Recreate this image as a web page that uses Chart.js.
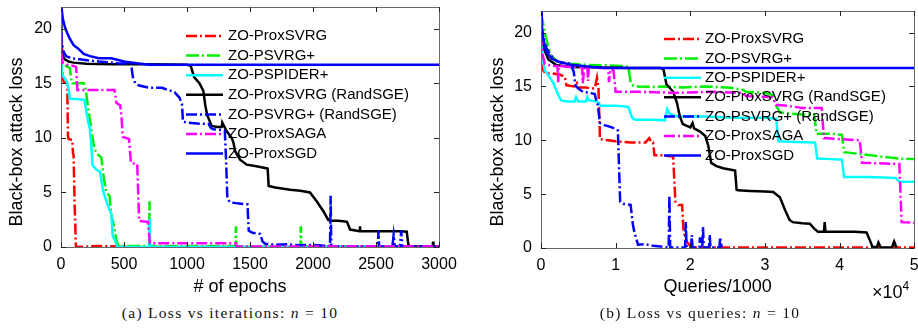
<!DOCTYPE html>
<html>
<head>
<meta charset="utf-8">
<script src="https://cdn.jsdelivr.net/npm/chart.js@4.4.1/dist/chart.umd.min.js"></script>
<style>
  html, body { margin: 0; padding: 0; background: #fff; }
  #page { position: relative; width: 918px; height: 329px; overflow: hidden; font-family: "Liberation Sans", Arial, sans-serif; }
  #page canvas { position: absolute; top: 0; }
  #lossEpochs { left: 0; }
  #lossQueries { left: 459px; }
  .caption { position: absolute; top: 304px; font-family: "Liberation Serif", "Times New Roman", serif; font-size: 15.5px; line-height: 17px; letter-spacing: 1.3px; white-space: nowrap; transform: translateX(-50%); color: #111; }
  #exponent { position: absolute; left: 872px; top: 283px; font-size: 18px; line-height: 18px; color: #000; }
  #exponent span { font-size: 12px; position: relative; top: -8px; }
</style>
</head>
<body>
<div id="page">
  <canvas id="lossEpochs" width="459" height="300"></canvas>
  <canvas id="lossQueries" width="459" height="300"></canvas>
  <div id="exponent">×10<span>4</span></div>
  <div class="caption" style="left:230px">(a) Loss vs iterations: <i>n</i> = 10</div>
  <div class="caption" style="left:700px">(b) Loss vs queries: <i>n</i> = 10</div>
</div>
<script>
// tick labels
var epochTicks = [0, 500, 1000, 1500, 2000, 2500, 3000];
var queryTicks = [0, 1, 2, 3, 4, 5];
var lossTicks = [0, 5, 10, 15, 20];

var seriesNames = ['ZO-ProxSVRG', 'ZO-PSVRG+', 'ZO-PSPIDER+', 'ZO-ProxSVRG (RandSGE)',
                   'ZO-PSVRG+ (RandSGE)', 'ZO-ProxSAGA', 'ZO-ProxSGD'];

// ---- (a) loss vs # of epochs ----
var epSvrgX = [0, 8, 15, 25, 50, 55, 60, 90, 95, 100, 108, 118, 130, 300, 600, 3000];
var epSvrgY = [17.3, 16.2, 15.3, 15.1, 15.0, 10.2, 9.9, 9.8, 8.6, 8.4, 4.0, 0.1, 0.0, 0.1, 0.0, 0.0];

var epPsvrgX = [0, 5, 15, 40, 70, 80, 90, 180, 195, 215, 240, 265, 290, 320, 340, 360, 385, 400, 420, 440, 455,
                700, 702, 705, 1385, 1388, 1392, 1900, 1903, 1907, 3000];
var epPsvrgY = [18.5, 17.3, 16.9, 16.6, 16.4, 15.5, 15.0, 15.0, 14.5, 12.8, 10.8, 9.0, 8.5, 8.2, 6.3, 5.0, 4.7, 2.8, 2.0, 0.6, 0.1,
                0.1, 4.2, 0.1, 0.1, 1.9, 0.05, 0.05, 1.9, 0.05, 0.05];

var epSpiderX = [0, 5, 20, 45, 60, 70, 185, 200, 215, 228, 240, 250, 280, 310, 322, 335, 357, 385, 400, 410, 430, 445,
                 700, 703, 708, 3000];
var epSpiderY = [17.6, 16.0, 15.6, 15.2, 14.5, 13.6, 13.5, 12.5, 11.5, 10.9, 9.4, 7.5, 7.1, 6.9, 6.0, 5.1, 4.3, 3.4, 3.0, 1.0, 0.6, 0.0,
                 0.0, 2.6, 0.0, 0.0];

var epRandSvrgX = [0, 3, 8, 15, 30, 60, 100, 200, 400, 700, 1000, 1030, 1045, 1055, 1100, 1130, 1145, 1160, 1196, 1240,
                   1275, 1280, 1315, 1355, 1370, 1381, 1421, 1474, 1550, 1619, 1640, 1648, 1700, 1818, 1900, 1976, 2029,
                   2081, 2120, 2135, 2200, 2240, 2270, 2294, 2370, 2373, 2376, 2500, 2600, 2700, 2744, 2757, 2770, 2850,
                   2950, 2953, 2956, 3000];
var epRandSvrgY = [21.8, 19.2, 18.0, 17.5, 17.2, 17.0, 16.9, 16.8, 16.75, 16.75, 16.7, 16.6, 16.0, 15.6, 15.0, 14.3, 13.0,
                   12.1, 11.1, 11.0, 11.0, 11.4, 10.6, 10.0, 9.5, 8.8, 8.0, 7.55, 7.4, 7.25, 7.2, 5.6, 5.45, 5.25, 5.15,
                   5.0, 4.2, 3.3, 2.5, 2.4, 2.4, 2.35, 2.3, 1.6, 1.45, 1.9, 1.45, 1.45, 1.45, 1.45, 1.4, 0.2, 0.05, 0.05,
                   0.05, 0.5, 0.05, 0.05];

var epRandPsvrgX = [0, 3, 10, 20, 40, 80, 150, 300, 450, 556, 570, 590, 620, 700, 800, 850, 900, 940, 960, 968, 1000,
                    1100, 1170, 1190, 1210, 1300, 1310, 1320, 1340, 1400, 1480, 1490, 1520, 1580, 1600, 1620, 1700, 1800,
                    1900, 2000, 2100, 2135, 2140, 2145, 2200, 2400, 2515, 2520, 2525, 2630, 2640, 2650, 2690, 2700, 2710,
                    3000];
var epRandPsvrgY = [21.5, 19.5, 18.5, 17.9, 17.5, 17.3, 17.2, 17.0, 16.85, 16.8, 15.6, 15.0, 14.8, 14.6, 14.6, 14.4, 14.2,
                    13.7, 13.1, 11.5, 11.4, 11.3, 11.3, 10.9, 10.8, 10.7, 8.0, 4.5, 4.1, 4.0, 3.9, 1.5, 1.3, 1.2, 0.5, 0.3,
                    0.2, 0.25, 0.15, 0.2, 0.1, 0.1, 4.7, 0.05, 0.05, 0.05, 0.05, 1.5, 0.05, 0.05, 1.1, 0.05, 0.05, 1.5,
                    0.05, 0.05];

var epSagaX = [0, 5, 10, 50, 100, 120, 130, 200, 300, 425, 440, 470, 480, 490, 540, 555, 605, 620, 690, 705, 1000,
               1385, 1395, 2000, 3000];
var epSagaY = [19.5, 17.5, 16.9, 16.7, 16.6, 16.5, 14.4, 14.4, 14.4, 14.4, 13.2, 13.0, 12.0, 10.1, 9.9, 7.7, 7.6, 2.4,
               2.3, 0.35, 0.35, 0.35, 0.05, 0.05, 0.05];

var epSgdX = [0, 5, 15, 30, 50, 70, 100, 135, 180, 230, 300, 400, 500, 600, 700, 1000, 3000];
var epSgdY = [22.5, 21.8, 20.9, 20.2, 19.6, 19.1, 18.5, 18.2, 17.7, 17.5, 17.3, 17.3, 17.0, 16.85, 16.7, 16.7, 16.7];

// ---- (b) loss vs queries/1000 (x 10^4) ----
var qSvrgX = [0, 0.03, 0.06, 0.15, 0.25, 0.32, 0.34, 0.45, 0.48, 0.5, 0.6, 0.72, 0.75, 0.77, 0.79, 0.9, 1.0, 1.2, 1.4,
              1.45, 1.48, 1.5, 1.52, 1.6, 1.77, 1.8, 1.84, 1.89, 1.91, 1.95, 2.0, 2.05, 3.0, 5.0];
var qSvrgY = [17.2, 16.5, 16.2, 16.2, 16.1, 15.9, 15.1, 15.0, 15.3, 14.9, 14.9, 14.8, 15.8, 14.8, 10.1, 10.0, 9.9, 9.8,
              9.8, 10.2, 9.8, 9.8, 8.6, 8.6, 8.5, 4.3, 4.0, 4.0, 1.5, 0.6, 0.2, 0.05, 0.05, 0.05];

var qPsvrgX = [0, 0.03, 0.07, 0.13, 0.22, 0.4, 0.63, 0.9, 1.1, 1.17, 1.2, 1.23, 1.3, 1.5, 1.66, 1.9, 2.2, 2.5, 2.7,
               2.75, 3.0, 3.1, 3.15, 3.2, 3.3, 3.5, 3.66, 3.69, 3.9, 4.03, 4.06, 4.3, 4.6, 4.8, 5.0];
var qPsvrgY = [21.8, 20.8, 19.4, 17.9, 17.3, 17.1, 17.0, 16.95, 16.9, 16.8, 15.4, 15.1, 15.0, 14.95, 15.0, 14.9, 15.0,
               14.9, 14.7, 14.5, 14.4, 14.2, 13.2, 12.6, 12.5, 12.4, 12.4, 10.6, 10.6, 10.5, 8.9, 8.7, 8.45, 8.3, 8.25];

var qSpiderX = [0, 0.02, 0.05, 0.1, 0.16, 0.23, 0.27, 0.35, 0.45, 0.47, 0.5, 0.6, 0.62, 0.64, 0.75, 0.8, 1.0, 1.17,
                1.22, 1.26, 1.5, 1.66, 1.69, 1.72, 1.77, 1.85, 2.2, 2.6, 3.0, 3.15, 3.18, 3.4, 3.67, 3.7, 3.9, 4.03,
                4.06, 4.4, 4.75, 4.8, 5.0];
var qSpiderY = [20.0, 17.8, 16.5, 16.0, 15.4, 14.2, 13.7, 13.6, 13.6, 14.0, 13.6, 13.6, 14.0, 13.7, 13.6, 13.2, 13.2,
                13.1, 12.1, 11.9, 11.9, 11.85, 12.9, 12.5, 12.3, 12.2, 12.2, 12.1, 12.1, 12.0, 9.9, 9.85, 9.8, 8.3,
                8.25, 8.2, 6.6, 6.6, 6.5, 6.15, 6.15];

var qRandSvrgX = [0, 0.02, 0.05, 0.1, 0.2, 0.4, 0.8, 1.2, 1.6, 1.64, 1.68, 1.72, 1.77, 1.82, 1.86, 1.9, 2.0, 2.03, 2.05,
                  2.13, 2.2, 2.24, 2.28, 2.35, 2.44, 2.6, 2.62, 2.64, 2.8, 3.0, 3.11, 3.2, 3.27, 3.33, 3.37, 3.5, 3.6,
                  3.66, 3.71, 3.79, 3.8, 3.81, 4.0, 4.2, 4.36, 4.4, 4.44, 4.5, 4.52, 4.55, 4.7, 4.73, 4.76];
var qRandSvrgY = [21.6, 19.5, 18.3, 17.5, 17.0, 16.8, 16.75, 16.7, 16.7, 16.6, 15.2, 14.9, 14.5, 13.5, 12.2, 11.5, 11.2,
                  11.6, 11.1, 10.8, 10.4, 9.5, 7.9, 7.6, 7.4, 7.2, 5.4, 5.35, 5.3, 5.25, 5.2, 4.7, 3.5, 2.6, 2.4, 2.3,
                  2.25, 1.8, 1.5, 1.5, 2.4, 1.5, 1.5, 1.5, 1.45, 0.8, 0.1, 0.1, 0.5, 0.05, 0.05, 0.6, 0.05];

var qRandPsvrgX = [0, 0.03, 0.07, 0.12, 0.2, 0.27, 0.4, 0.44, 0.46, 0.5, 0.56, 0.65, 0.72, 0.74, 0.76, 0.79, 0.85, 0.95,
                   1.03, 1.06, 1.1, 1.2, 1.23, 1.25, 1.27, 1.3, 1.4, 1.5, 1.6, 1.7, 1.71, 1.72, 1.73, 1.8, 1.93, 1.94,
                   1.95, 2.01, 2.02, 2.03, 2.12, 2.13, 2.14, 2.16, 2.17, 2.18, 2.25, 2.26, 2.27, 2.39, 2.40, 2.42];
var qRandPsvrgY = [20.7, 19.5, 18.6, 18.0, 17.4, 17.2, 17.1, 16.3, 15.1, 14.8, 14.5, 14.4, 14.3, 13.7, 13.3, 11.6, 11.4,
                   11.2, 10.9, 4.3, 4.1, 4.0, 2.2, 1.5, 1.0, 0.3, 0.35, 0.2, 0.15, 0.05, 0.05, 4.9, 0.05, 0.05, 0.05,
                   2.4, 0.05, 0.05, 1.2, 0.05, 0.05, 1.0, 0.05, 0.05, 1.95, 0.05, 0.05, 1.2, 0.05, 0.05, 1.0, 0.05];

var qSagaX = [0, 0.02, 0.05, 0.15, 0.22, 0.23, 0.24, 0.4, 0.55, 0.56, 0.58, 0.62, 0.63, 0.64, 0.8, 0.9, 0.91, 0.93,
              0.97, 1.0, 1.3, 1.8, 2.3, 2.7, 2.75, 3.1, 3.15, 3.3, 3.5, 3.76, 3.79, 4.0, 4.27, 4.3, 4.6, 4.8, 4.83, 5.0];
var qSagaY = [19.8, 18.0, 17.1, 16.9, 16.9, 15.4, 16.9, 16.8, 16.8, 15.3, 16.8, 16.8, 15.5, 16.8, 16.7, 16.7, 15.4,
              16.6, 16.5, 14.5, 14.5, 14.4, 14.5, 14.4, 14.1, 14.0, 13.3, 13.2, 13.0, 13.0, 10.2, 10.1, 10.0, 7.9,
              7.85, 7.8, 2.4, 2.35];

var qSgdX = [0, 0.01, 0.03, 0.07, 0.14, 0.23, 0.3, 0.4, 0.63, 0.85, 2.0, 5.0];
var qSgdY = [22.5, 20.7, 19.4, 18.2, 17.6, 17.3, 17.2, 17.0, 16.85, 16.7, 16.7, 16.7];

// line styles, same order as seriesNames
var seriesColors = ['#ff0000', '#00ee00', '#00ffff', '#000000', '#0000ff', '#ff00ff', '#0000ff'];
var seriesDash = [[11, 3, 2, 3], [13, 3, 2, 3], [], [], [11, 3, 2, 3], [11, 3, 2, 3], []];

var FONT = '"Liberation Sans", Arial, Helvetica, sans-serif';

// box round the plot + inward ticks on all four sides
var frameTicks = {
  id: 'frameTicks',
  afterDraw: function (chart) {
    var ctx = chart.ctx, a = chart.chartArea;
    var xs = chart.scales.x, ys = chart.scales.y, len = 5;
    ctx.save();
    ctx.lineWidth = 1;
    ctx.strokeStyle = '#6a6a6a';
    ctx.strokeRect(Math.round(a.left) + 0.5, Math.round(a.top) + 0.5,
                   Math.round(a.right - a.left), Math.round(a.bottom - a.top));
    ctx.strokeStyle = '#222';
    ctx.beginPath();
    xs.ticks.forEach(function (t) {
      var px = Math.round(xs.getPixelForValue(t.value)) + 0.5;
      ctx.moveTo(px, a.bottom); ctx.lineTo(px, a.bottom - len);
      ctx.moveTo(px, a.top); ctx.lineTo(px, a.top + len);
    });
    ys.ticks.forEach(function (t) {
      var py = Math.round(ys.getPixelForValue(t.value)) + 0.5;
      ctx.moveTo(a.left, py); ctx.lineTo(a.left + len, py);
      ctx.moveTo(a.right, py); ctx.lineTo(a.right - len, py);
    });
    ctx.stroke();
    ctx.restore();
  }
};

// legend sits inside the axes, no box, matlab style
var insideLegend = {
  id: 'insideLegend',
  afterDatasetsDraw: function (chart, args, opts) {
    var ctx = chart.ctx, a = chart.chartArea;
    ctx.save();
    ctx.font = '15px ' + FONT;
    ctx.textBaseline = 'middle';
    ctx.textAlign = 'left';
    chart.data.datasets.forEach(function (ds, i) {
      var x0 = a.left + opts.left;
      var y = a.top + opts.top + i * opts.rowGap;
      ctx.strokeStyle = ds.borderColor;
      ctx.lineWidth = ds.borderWidth;
      ctx.setLineDash(ds.borderDash);
      ctx.beginPath();
      ctx.moveTo(x0, y);
      ctx.lineTo(x0 + opts.lineLength, y);
      ctx.stroke();
      ctx.setLineDash([]);
      ctx.fillStyle = '#000';
      ctx.fillText(ds.label, x0 + opts.lineLength + opts.textGap, y);
    });
    ctx.restore();
  }
};

function toPoints(xs, ys) {
  return xs.map(function (x, k) { return {x: x, y: ys[k]}; });
}

function fixedTicks(values) {
  return function (scale) {
    scale.ticks = values.map(function (v) { return {value: v}; });
  };
}

function buildChart(canvasId, xsList, ysList, cfg) {
  var datasets = seriesNames.map(function (name, i) {
    return {
      label: name,
      data: toPoints(xsList[i], ysList[i]),
      borderColor: seriesColors[i],
      borderDash: seriesDash[i],
      borderWidth: 2.5,
      pointRadius: 0,
      tension: 0,
      fill: false,
      order: seriesNames.length - i   // later series end up on top
    };
  });

  return new Chart(document.getElementById(canvasId), {
    type: 'line',
    data: {datasets: datasets},
    options: {
      responsive: false,
      animation: false,
      devicePixelRatio: 1,
      layout: {padding: {left: 0, top: cfg.top, right: cfg.right, bottom: 0}},
      plugins: {
        legend: {display: false},
        tooltip: {enabled: false},
        insideLegend: cfg.legend
      },
      scales: {
        x: {
          type: 'linear',
          min: cfg.xTicks[0],
          max: cfg.xTicks[cfg.xTicks.length - 1],
          afterBuildTicks: fixedTicks(cfg.xTicks),
          afterFit: function (s) {
            s.height = cfg.xHeight;
            s.paddingLeft = s.paddingRight = s.paddingTop = s.paddingBottom = 0;
          },
          grid: {display: false, drawTicks: false},
          border: {display: false},
          ticks: {
            color: '#000', padding: 8, maxRotation: 0, autoSkip: false,
            font: {family: FONT, size: 16},
            callback: function (v) { return String(v); }
          },
          title: {
            display: true, text: cfg.xTitle, color: '#000',
            font: {family: FONT, size: 18}, padding: {top: 0, bottom: 2.5}
          }
        },
        y: {
          type: 'linear',
          min: 0,
          max: 22,
          afterBuildTicks: fixedTicks(lossTicks),
          afterFit: function (s) {
            s.width = cfg.yWidth;
            s.paddingLeft = s.paddingRight = s.paddingTop = s.paddingBottom = 0;
          },
          grid: {display: false, drawTicks: false},
          border: {display: false},
          ticks: {
            color: '#000', padding: 9,
            font: {family: FONT, size: 16},
            callback: function (v) { return String(v); }
          },
          title: {
            display: true, text: cfg.yTitle, color: '#000',
            font: {family: FONT, size: 18}, padding: {top: cfg.yTitlePad, bottom: 0}
          }
        }
      }
    },
    plugins: [frameTicks, insideLegend]
  });
}

// trailing spaces nudge the axis titles off-centre like in the figure
buildChart('lossEpochs',
  [epSvrgX, epPsvrgX, epSpiderX, epRandSvrgX, epRandPsvrgX, epSagaX, epSgdX],
  [epSvrgY, epPsvrgY, epSpiderY, epRandSvrgY, epRandPsvrgY, epSagaY, epSgdY],
  {
    xTicks: epochTicks, top: 7, right: 20, xHeight: 53, yWidth: 61, yTitlePad: 6.7,
    xTitle: '# of epochs    ', yTitle: 'Black-box attack loss      ',
    legend: {left: 125, top: 29, rowGap: 19.6, lineLength: 37, textGap: 5}
  });

buildChart('lossQueries',
  [qSvrgX, qPsvrgX, qSpiderX, qRandSvrgX, qRandPsvrgX, qSagaX, qSgdX],
  [qSvrgY, qPsvrgY, qSpiderY, qRandSvrgY, qRandPsvrgY, qSagaY, qSgdY],
  {
    xTicks: queryTicks, top: 11, right: 3.7, xHeight: 52, yWidth: 82, yTitlePad: 28.7,
    xTitle: 'Queries/1000    ', yTitle: 'Black-box attack loss     ',
    legend: {left: 123, top: 28, rowGap: 19.4, lineLength: 37, textGap: 4}
  });
</script>
</body>
</html>
